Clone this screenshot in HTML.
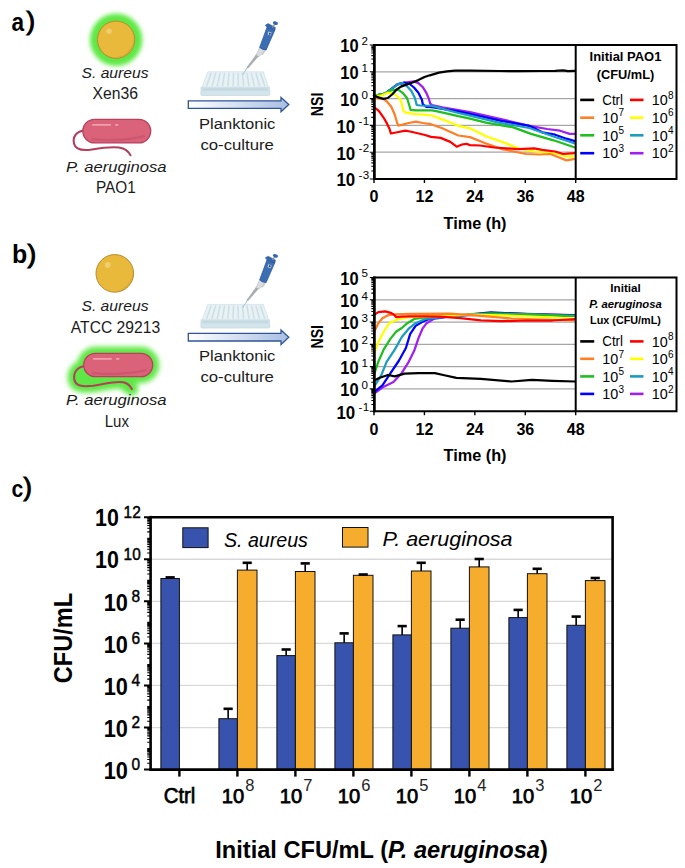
<!DOCTYPE html><html><head><meta charset="utf-8"><style>html,body{margin:0;padding:0;background:#fff;}svg{display:block;}text{font-family:"Liberation Sans", sans-serif;}</style></head><body>
<svg width="685" height="868" viewBox="0 0 685 868">
<defs><filter id="glow" x="-50%" y="-50%" width="200%" height="200%"><feGaussianBlur stdDeviation="2.1"/></filter><filter id="glow2" x="-30%" y="-60%" width="160%" height="220%"><feGaussianBlur stdDeviation="2.4"/></filter><linearGradient id="arrowg" x1="0" y1="0" x2="1" y2="0"><stop offset="0" stop-color="#FFFFFF"/><stop offset="1" stop-color="#A9BEE3"/></linearGradient></defs>
<rect width="685" height="868" fill="#fff"/>
<text transform="translate(11.4,30.6) scale(0.86,1)" font-size="26.3" font-weight="bold">a</text>
<text x="26.4" y="29.6" font-size="25.4" stroke="#000" stroke-width="1.1">)</text>
<text transform="translate(11.9,263.0) scale(0.96,1)" font-size="26.0" font-weight="bold">b</text>
<text x="27.6" y="262.6" font-size="25.8" stroke="#000" stroke-width="1.1">)</text>
<text transform="translate(11.6,496.5) scale(0.86,1)" font-size="24.7" font-weight="bold">c</text>
<text x="23.4" y="496.2" font-size="24.9" stroke="#000" stroke-width="1.1">)</text>
<circle cx="116.1" cy="39.7" r="26.200000000000003" fill="#5EE845" filter="url(#glow)"/>
<circle cx="116.1" cy="39.7" r="18.6" fill="#E9B93C" stroke="#B98B32" stroke-width="1.0"/>
<path d="M133.40,35.05 A17.86,17.86 0 0 1 114.24,57.37 A19.53,19.53 0 0 0 133.40,35.05 Z" fill="#D9A331" opacity="0.8"/>
<circle cx="109.03" cy="31.33" r="2.79" fill="#F0CD6E"/>
<text x="115" y="77.75" font-size="14.8" font-weight="normal" font-style="italic" text-anchor="middle" fill="#1a1a1a" textLength="67" lengthAdjust="spacingAndGlyphs" >S. aureus</text>
<text x="115.3" y="99.1" font-size="16.1" font-weight="normal" font-style="normal" text-anchor="middle" fill="#1a1a1a" textLength="45.5" lengthAdjust="spacingAndGlyphs" >Xen36</text>
<path d="M83.5,130.5 C76,132 72.5,137 74,143.5 C75.5,150 82,151 92,149.5 C104,147.5 116,146 123,148.5 C127,150 129,152.5 130.5,155.2" fill="none" stroke="#B23F5C" stroke-width="2.1" stroke-linecap="round"/>
<rect x="82.8" y="119.3" width="67.89999999999999" height="23.60000000000001" rx="11.800000000000004" fill="#DA6379" stroke="#B8405E" stroke-width="1.3"/>
<path d="M91.06,139.124 Q116.75,142.192 144.79999999999998,136.292" fill="none" stroke="#C64D67" stroke-width="2.4" opacity="0.55"/>
<line x1="92.8" y1="124.89999999999999" x2="110.3" y2="124.89999999999999" stroke="#EDA0AE" stroke-width="1.6" stroke-linecap="round"/>
<line x1="115.8" y1="124.89999999999999" x2="117.8" y2="124.89999999999999" stroke="#EDA0AE" stroke-width="1.6" stroke-linecap="round"/>
<text x="116.3" y="171.9" font-size="15" font-weight="normal" font-style="italic" text-anchor="middle" fill="#1a1a1a" textLength="100.4" lengthAdjust="spacingAndGlyphs" >P. aeruginosa</text>
<text x="115.8" y="193.3" font-size="15.9" font-weight="normal" font-style="normal" text-anchor="middle" fill="#1a1a1a" textLength="39.8" lengthAdjust="spacingAndGlyphs" >PAO1</text>
<g transform="translate(0,0)">
<path d="M201,87.2 L269.5,87.2 L269.8,94.5 Q269.8,95.5 268.5,95.5 L202,95.5 Q200.8,95.5 200.8,94.5 Z" fill="#D3E4EA" stroke="#BFD3DB" stroke-width="0.6"/>
<rect x="202.5" y="88.2" width="65.5" height="2.6" fill="#C4D9E1"/>
<path d="M207.8,71.8 L263.3,71.8 L268.6,87.2 L202.2,87.2 Z" fill="#E8F2F5" stroke="#C6DAE2" stroke-width="0.6"/>
<line x1="211.2" y1="72.8" x2="206.6" y2="86.2" stroke="#CCDFE6" stroke-width="1.5"/>
<line x1="215.7" y1="72.8" x2="211.9" y2="86.2" stroke="#CCDFE6" stroke-width="1.5"/>
<line x1="220.1" y1="72.8" x2="217.2" y2="86.2" stroke="#CCDFE6" stroke-width="1.5"/>
<line x1="224.6" y1="72.8" x2="222.5" y2="86.2" stroke="#CCDFE6" stroke-width="1.5"/>
<line x1="229.1" y1="72.8" x2="227.8" y2="86.2" stroke="#CCDFE6" stroke-width="1.5"/>
<line x1="233.5" y1="72.8" x2="233.1" y2="86.2" stroke="#CCDFE6" stroke-width="1.5"/>
<line x1="238.0" y1="72.8" x2="238.4" y2="86.2" stroke="#CCDFE6" stroke-width="1.5"/>
<line x1="242.4" y1="72.8" x2="243.7" y2="86.2" stroke="#CCDFE6" stroke-width="1.5"/>
<line x1="246.9" y1="72.8" x2="249.0" y2="86.2" stroke="#CCDFE6" stroke-width="1.5"/>
<line x1="251.4" y1="72.8" x2="254.3" y2="86.2" stroke="#CCDFE6" stroke-width="1.5"/>
<line x1="255.8" y1="72.8" x2="259.6" y2="86.2" stroke="#CCDFE6" stroke-width="1.5"/>
<line x1="260.3" y1="72.8" x2="264.9" y2="86.2" stroke="#CCDFE6" stroke-width="1.5"/>
</g>
<g transform="translate(0,0)">
<line x1="243" y1="74.6" x2="247.8" y2="66.8" stroke="#A9C3CC" stroke-width="1.0" stroke-linecap="round"/>
<path d="M246.9,67.4 L256.2,54.6 L258.4,56.2 L248.2,67.9 Z" fill="#A8ADB3" stroke="#8E959C" stroke-width="0.4"/>
<path d="M256.0,55.2 L259.6,47.6 L265.8,50.0 L258.9,56.6 Z" fill="#DADDE0" stroke="#A3A9AF" stroke-width="0.5"/>
<path d="M263.5,50.5 L266.0,50.2 L262.8,55.2 L261.6,54.4 Z" fill="#C9CDD1"/>
<path d="M259.6,47.4 L267.0,27.2 L274.8,30.2 L266.2,49.9 Q263.0,50.2 259.6,47.4 Z" fill="#3C6EB4" stroke="#2A5593" stroke-width="0.7"/>
<path d="M265.2,25.2 L268.2,23.6 L275.4,27.4 L274.9,30.4 L267.2,27.4 Z" fill="#3567AE" stroke="#2A5593" stroke-width="0.5"/>
<path d="M268.6,31.6 L271.6,32.8 L270.6,35.6 L267.6,34.4 Z" fill="#E8EEF4"/>
<path d="M269.2,32.4 L271.0,33.1 L270.3,34.9 L268.5,34.2 Z" fill="#23406B"/>
<line x1="272.6" y1="27.6" x2="274.6" y2="24.2" stroke="#8A96A3" stroke-width="1.3"/>
<ellipse cx="275.4" cy="23.2" rx="2.6" ry="1.7" fill="#3567AE" transform="rotate(20 275.4 23.2)"/>
</g>
<g transform="translate(0,0)">
<path d="M188.3,100.8 L281,100.8 L281,97.4 L288.8,104.6 L281,111.8 L281,108.4 L188.3,108.4 Z" fill="url(#arrowg)" stroke="#2F5597" stroke-width="1.3" stroke-linejoin="miter"/>
</g>
<text x="237.2" y="128.7" font-size="15.5" font-weight="normal" font-style="normal" text-anchor="middle" fill="#1a1a1a" textLength="76.4" lengthAdjust="spacingAndGlyphs" >Planktonic</text>
<text x="237.2" y="149.7" font-size="15.5" font-weight="normal" font-style="normal" text-anchor="middle" fill="#1a1a1a" textLength="73.5" lengthAdjust="spacingAndGlyphs" >co-culture</text>
<g filter="url(#glow2)"><rect x="77.2" y="346.8" width="81.99999999999999" height="36.39999999999998" rx="18.19999999999999" fill="#5EE845"/><path d="M84.5,366 C77,367.5 73.3,372.5 74.3,379.5 C75.5,386 82,387 93,385.8 C105,384.2 115,380.5 123.5,382.3 C128,383.5 130.5,386.5 131.8,389 L113.7,376.7 Z" fill="#5EE845" stroke="#5EE845" stroke-width="13" stroke-linejoin="round" stroke-linecap="round"/></g>
<path d="M84.5,366 C77,367.5 73.3,372.5 74.3,379.5 C75.5,386 82,387 93,385.8 C105,384.2 115,380.5 123.5,382.3 C128,383.5 130.5,386.5 131.8,389" fill="none" stroke="#B23F5C" stroke-width="2.1" stroke-linecap="round"/>
<rect x="83.7" y="353.3" width="68.99999999999999" height="23.399999999999977" rx="11.699999999999989" fill="#DA6379" stroke="#B8405E" stroke-width="1.3"/>
<path d="M91.89,372.956 Q118.19999999999999,375.998 146.85,370.148" fill="none" stroke="#C64D67" stroke-width="2.4" opacity="0.55"/>
<line x1="93.7" y1="358.90000000000003" x2="111.2" y2="358.90000000000003" stroke="#EDA0AE" stroke-width="1.6" stroke-linecap="round"/>
<line x1="116.7" y1="358.90000000000003" x2="118.7" y2="358.90000000000003" stroke="#EDA0AE" stroke-width="1.6" stroke-linecap="round"/>
<circle cx="114.8" cy="273.4" r="18.8" fill="#E9B93C" stroke="#B98B32" stroke-width="1.0"/>
<path d="M132.28,268.70 A18.05,18.05 0 0 1 112.92,291.26 A19.74,19.74 0 0 0 132.28,268.70 Z" fill="#D9A331" opacity="0.8"/>
<circle cx="107.66" cy="264.94" r="2.82" fill="#F0CD6E"/>
<text x="115" y="311" font-size="14.8" font-weight="normal" font-style="italic" text-anchor="middle" fill="#1a1a1a" textLength="67.1" lengthAdjust="spacingAndGlyphs" >S. aureus</text>
<text x="115.5" y="332.6" font-size="15.6" font-weight="normal" font-style="normal" text-anchor="middle" fill="#1a1a1a" textLength="89.3" lengthAdjust="spacingAndGlyphs" >ATCC 29213</text>
<text x="116.3" y="405.2" font-size="15" font-weight="normal" font-style="italic" text-anchor="middle" fill="#1a1a1a" textLength="100.4" lengthAdjust="spacingAndGlyphs" >P. aeruginosa</text>
<text x="116.8" y="426.7" font-size="16.4" font-weight="normal" font-style="normal" text-anchor="middle" fill="#1a1a1a" textLength="24.2" lengthAdjust="spacingAndGlyphs" >Lux</text>
<g transform="translate(0,232.6)">
<path d="M201,87.2 L269.5,87.2 L269.8,94.5 Q269.8,95.5 268.5,95.5 L202,95.5 Q200.8,95.5 200.8,94.5 Z" fill="#D3E4EA" stroke="#BFD3DB" stroke-width="0.6"/>
<rect x="202.5" y="88.2" width="65.5" height="2.6" fill="#C4D9E1"/>
<path d="M207.8,71.8 L263.3,71.8 L268.6,87.2 L202.2,87.2 Z" fill="#E8F2F5" stroke="#C6DAE2" stroke-width="0.6"/>
<line x1="211.2" y1="72.8" x2="206.6" y2="86.2" stroke="#CCDFE6" stroke-width="1.5"/>
<line x1="215.7" y1="72.8" x2="211.9" y2="86.2" stroke="#CCDFE6" stroke-width="1.5"/>
<line x1="220.1" y1="72.8" x2="217.2" y2="86.2" stroke="#CCDFE6" stroke-width="1.5"/>
<line x1="224.6" y1="72.8" x2="222.5" y2="86.2" stroke="#CCDFE6" stroke-width="1.5"/>
<line x1="229.1" y1="72.8" x2="227.8" y2="86.2" stroke="#CCDFE6" stroke-width="1.5"/>
<line x1="233.5" y1="72.8" x2="233.1" y2="86.2" stroke="#CCDFE6" stroke-width="1.5"/>
<line x1="238.0" y1="72.8" x2="238.4" y2="86.2" stroke="#CCDFE6" stroke-width="1.5"/>
<line x1="242.4" y1="72.8" x2="243.7" y2="86.2" stroke="#CCDFE6" stroke-width="1.5"/>
<line x1="246.9" y1="72.8" x2="249.0" y2="86.2" stroke="#CCDFE6" stroke-width="1.5"/>
<line x1="251.4" y1="72.8" x2="254.3" y2="86.2" stroke="#CCDFE6" stroke-width="1.5"/>
<line x1="255.8" y1="72.8" x2="259.6" y2="86.2" stroke="#CCDFE6" stroke-width="1.5"/>
<line x1="260.3" y1="72.8" x2="264.9" y2="86.2" stroke="#CCDFE6" stroke-width="1.5"/>
</g>
<g transform="translate(0,232.6)">
<line x1="243" y1="74.6" x2="247.8" y2="66.8" stroke="#A9C3CC" stroke-width="1.0" stroke-linecap="round"/>
<path d="M246.9,67.4 L256.2,54.6 L258.4,56.2 L248.2,67.9 Z" fill="#A8ADB3" stroke="#8E959C" stroke-width="0.4"/>
<path d="M256.0,55.2 L259.6,47.6 L265.8,50.0 L258.9,56.6 Z" fill="#DADDE0" stroke="#A3A9AF" stroke-width="0.5"/>
<path d="M263.5,50.5 L266.0,50.2 L262.8,55.2 L261.6,54.4 Z" fill="#C9CDD1"/>
<path d="M259.6,47.4 L267.0,27.2 L274.8,30.2 L266.2,49.9 Q263.0,50.2 259.6,47.4 Z" fill="#3C6EB4" stroke="#2A5593" stroke-width="0.7"/>
<path d="M265.2,25.2 L268.2,23.6 L275.4,27.4 L274.9,30.4 L267.2,27.4 Z" fill="#3567AE" stroke="#2A5593" stroke-width="0.5"/>
<path d="M268.6,31.6 L271.6,32.8 L270.6,35.6 L267.6,34.4 Z" fill="#E8EEF4"/>
<path d="M269.2,32.4 L271.0,33.1 L270.3,34.9 L268.5,34.2 Z" fill="#23406B"/>
<line x1="272.6" y1="27.6" x2="274.6" y2="24.2" stroke="#8A96A3" stroke-width="1.3"/>
<ellipse cx="275.4" cy="23.2" rx="2.6" ry="1.7" fill="#3567AE" transform="rotate(20 275.4 23.2)"/>
</g>
<g transform="translate(0,232.6)">
<path d="M188.3,100.8 L281,100.8 L281,97.4 L288.8,104.6 L281,111.8 L281,108.4 L188.3,108.4 Z" fill="url(#arrowg)" stroke="#2F5597" stroke-width="1.3" stroke-linejoin="miter"/>
</g>
<text x="237.2" y="361.3" font-size="15.5" font-weight="normal" font-style="normal" text-anchor="middle" fill="#1a1a1a" textLength="76.4" lengthAdjust="spacingAndGlyphs" >Planktonic</text>
<text x="237.2" y="382.3" font-size="15.5" font-weight="normal" font-style="normal" text-anchor="middle" fill="#1a1a1a" textLength="73.5" lengthAdjust="spacingAndGlyphs" >co-culture</text>
<line x1="374.0" y1="71.80" x2="575.7" y2="71.80" stroke="#A6A6A6" stroke-width="1.3"/>
<line x1="374.0" y1="98.60" x2="575.7" y2="98.60" stroke="#A6A6A6" stroke-width="1.3"/>
<line x1="374.0" y1="125.40" x2="575.7" y2="125.40" stroke="#A6A6A6" stroke-width="1.3"/>
<line x1="374.0" y1="152.20" x2="575.7" y2="152.20" stroke="#A6A6A6" stroke-width="1.3"/>
<polyline points="374.0,95.8 385.1,93.6 392.1,88.4 397.4,84.4 404.4,82.7 407.0,82.3 414.0,81.4 418.4,83.1 422.8,87.1 426.3,92.8 428.9,98.9 430.2,103.7 432.0,105.0 442.3,107.4 470.0,112.2 502.1,119.4 529.4,125.8 547.1,129.0 560.0,130.7 569.6,133.9 575.0,133.9" fill="none" stroke="#A020F0" stroke-width="2.25" stroke-linejoin="round" stroke-linecap="round"/>
<polyline points="374.0,95.8 385.1,93.6 392.1,88.4 397.4,84.4 404.4,82.7 409.7,84.0 414.0,87.5 418.4,92.8 421.9,99.8 422.8,104.2 426.3,106.8 432.0,107.2 458.3,111.4 470.0,113.8 500.0,120.6 529.4,125.8 542.3,132.3 555.1,134.7 566.4,138.7 575.0,141.1" fill="none" stroke="#0000FF" stroke-width="2.25" stroke-linejoin="round" stroke-linecap="round"/>
<polyline points="374.0,95.8 385.1,93.6 392.1,88.4 397.4,84.4 402.6,83.1 407.0,86.2 411.4,91.0 414.9,98.0 416.7,105.0 420.2,105.5 432.0,105.9 458.3,113.0 470.0,115.6 500.0,122.8 529.4,128.0 555.0,137.0 575.0,143.5" fill="none" stroke="#1A9DC0" stroke-width="2.25" stroke-linejoin="round" stroke-linecap="round"/>
<polyline points="374.0,95.8 385.1,93.6 392.1,90.1 398.3,89.7 402.6,92.8 407.0,98.0 409.2,105.0 410.5,109.8 415.8,110.3 432.0,110.3 437.4,111.4 458.3,116.2 470.0,118.6 486.0,122.6 513.4,127.4 531.0,133.9 553.5,140.3 575.0,147.5" fill="none" stroke="#1FBF1F" stroke-width="2.25" stroke-linejoin="round" stroke-linecap="round"/>
<polyline points="374.0,95.8 380.8,95.8 387.8,92.8 391.3,92.8 395.6,95.0 400.0,98.9 402.2,105.0 403.5,111.2 407.0,112.9 415.8,114.2 424.5,114.7 432.0,115.5 442.3,119.4 458.3,125.8 470.0,128.3 486.0,136.3 502.0,141.9 518.2,148.3 534.2,151.5 555.0,153.1 566.4,156.4 575.0,156.4" fill="none" stroke="#FFFF00" stroke-width="2.25" stroke-linejoin="round" stroke-linecap="round"/>
<polyline points="374.0,98.0 383.4,98.9 386.9,101.5 391.3,106.8 394.8,114.7 397.0,122.5 398.3,125.6 402.6,124.7 408.8,123.0 415.8,121.7 422.8,123.0 431.0,124.2 442.3,128.3 458.3,135.5 470.0,137.1 486.0,143.5 502.1,149.1 526.2,154.0 540.0,154.5 550.3,154.0 558.0,157.0 566.4,160.4 575.0,158.8" fill="none" stroke="#FF7F27" stroke-width="2.25" stroke-linejoin="round" stroke-linecap="round"/>
<polyline points="374.0,107.0 379.0,111.2 383.4,117.3 386.9,123.4 389.5,128.7 390.9,133.5 396.0,132.5 405.3,130.7 410.0,131.5 416.6,133.0 425.0,135.0 431.0,136.8 440.7,137.9 450.3,141.9 456.7,146.7 462.0,144.5 466.4,143.8 470.0,145.1 480.0,145.5 494.0,147.5 518.2,149.1 534.2,148.3 542.3,149.9 555.1,151.5 563.1,154.0 575.0,153.1" fill="none" stroke="#FF0000" stroke-width="2.25" stroke-linejoin="round" stroke-linecap="round"/>
<polyline points="374.0,95.5 379.0,97.6 383.4,98.9 387.8,98.0 392.1,94.5 396.5,89.7 400.9,86.6 407.0,84.4 413.2,82.3 418.4,80.1 424.5,77.0 429.8,75.3 439.0,72.6 447.0,71.3 455.0,70.7 470.0,70.7 500.0,71.0 518.2,71.2 540.0,71.0 555.0,70.8 563.1,70.4 568.0,71.2 575.0,70.8" fill="none" stroke="#000000" stroke-width="2.25" stroke-linejoin="round" stroke-linecap="round"/>
<path d="M374.0,45 H676.5 V179 H374.0 Z" fill="none" stroke="#000" stroke-width="2"/>
<line x1="575.7" y1="45" x2="575.7" y2="179" stroke="#000" stroke-width="2"/>
<line x1="374.4" y1="44" x2="374.4" y2="180" stroke="#000" stroke-width="2.7"/>
<path d="M369.8,45.00H373.2 M369.8,71.80H373.2 M369.8,98.60H373.2 M369.8,125.40H373.2 M369.8,152.20H373.2 M369.8,179.00H373.2 M371.3,63.73H373.2 M371.3,59.01H373.2 M371.3,55.66H373.2 M371.3,53.07H373.2 M371.3,50.95H373.2 M371.3,49.15H373.2 M371.3,47.60H373.2 M371.3,46.23H373.2 M371.3,90.53H373.2 M371.3,85.81H373.2 M371.3,82.46H373.2 M371.3,79.87H373.2 M371.3,77.75H373.2 M371.3,75.95H373.2 M371.3,74.40H373.2 M371.3,73.03H373.2 M371.3,117.33H373.2 M371.3,112.61H373.2 M371.3,109.26H373.2 M371.3,106.67H373.2 M371.3,104.55H373.2 M371.3,102.75H373.2 M371.3,101.20H373.2 M371.3,99.83H373.2 M371.3,144.13H373.2 M371.3,139.41H373.2 M371.3,136.06H373.2 M371.3,133.47H373.2 M371.3,131.35H373.2 M371.3,129.55H373.2 M371.3,128.00H373.2 M371.3,126.63H373.2 M371.3,170.93H373.2 M371.3,166.21H373.2 M371.3,162.86H373.2 M371.3,160.27H373.2 M371.3,158.15H373.2 M371.3,156.35H373.2 M371.3,154.80H373.2 M371.3,153.43H373.2" stroke="#000" stroke-width="1.1" fill="none"/>
<line x1="374.00" y1="179" x2="374.00" y2="183" stroke="#000" stroke-width="1.4"/>
<text x="374.00" y="202.3" font-size="16" font-weight="bold" font-style="normal" text-anchor="middle" fill="#000" >0</text>
<line x1="424.43" y1="179" x2="424.43" y2="183" stroke="#000" stroke-width="1.4"/>
<text x="424.43" y="202.3" font-size="16" font-weight="bold" font-style="normal" text-anchor="middle" fill="#000" >12</text>
<line x1="474.85" y1="179" x2="474.85" y2="183" stroke="#000" stroke-width="1.4"/>
<text x="474.85" y="202.3" font-size="16" font-weight="bold" font-style="normal" text-anchor="middle" fill="#000" >24</text>
<line x1="525.28" y1="179" x2="525.28" y2="183" stroke="#000" stroke-width="1.4"/>
<text x="525.28" y="202.3" font-size="16" font-weight="bold" font-style="normal" text-anchor="middle" fill="#000" >36</text>
<line x1="575.70" y1="179" x2="575.70" y2="183" stroke="#000" stroke-width="1.4"/>
<text x="575.70" y="202.3" font-size="16" font-weight="bold" font-style="normal" text-anchor="middle" fill="#000" >48</text>
<text x="358.6" y="52.40" font-size="17.9" font-weight="bold" font-style="normal" text-anchor="end" fill="#000" textLength="18.3" lengthAdjust="spacingAndGlyphs" >10</text>
<text x="361.6" y="44.90" font-size="11.6" font-weight="normal" font-style="normal" text-anchor="start" fill="#000" >2</text>
<text x="358.6" y="79.20" font-size="17.9" font-weight="bold" font-style="normal" text-anchor="end" fill="#000" textLength="18.3" lengthAdjust="spacingAndGlyphs" >10</text>
<text x="361.6" y="71.70" font-size="11.6" font-weight="normal" font-style="normal" text-anchor="start" fill="#000" >1</text>
<text x="358.6" y="106.00" font-size="17.9" font-weight="bold" font-style="normal" text-anchor="end" fill="#000" textLength="18.3" lengthAdjust="spacingAndGlyphs" >10</text>
<text x="361.6" y="98.50" font-size="11.6" font-weight="normal" font-style="normal" text-anchor="start" fill="#000" >0</text>
<text x="355.2" y="132.80" font-size="17.9" font-weight="bold" font-style="normal" text-anchor="end" fill="#000" textLength="18.8" lengthAdjust="spacingAndGlyphs" >10</text>
<text x="358.4" y="125.30" font-size="11.6" font-weight="normal" font-style="normal" text-anchor="start" fill="#000" letter-spacing="0.5">-1</text>
<text x="355.2" y="159.60" font-size="17.9" font-weight="bold" font-style="normal" text-anchor="end" fill="#000" textLength="18.8" lengthAdjust="spacingAndGlyphs" >10</text>
<text x="358.4" y="152.10" font-size="11.6" font-weight="normal" font-style="normal" text-anchor="start" fill="#000" letter-spacing="0.5">-2</text>
<text x="355.2" y="186.40" font-size="17.9" font-weight="bold" font-style="normal" text-anchor="end" fill="#000" textLength="18.8" lengthAdjust="spacingAndGlyphs" >10</text>
<text x="358.4" y="178.90" font-size="11.6" font-weight="normal" font-style="normal" text-anchor="start" fill="#000" letter-spacing="0.5">-3</text>
<text x="475" y="228.5" font-size="16.5" font-weight="bold" font-style="normal" text-anchor="middle" fill="#000" textLength="63" lengthAdjust="spacingAndGlyphs" >Time (h)</text>
<text transform="translate(322.8,104.40) rotate(-90)" font-size="17" font-weight="bold" text-anchor="middle" textLength="23.5" lengthAdjust="spacingAndGlyphs">NSI</text>
<text x="625.5" y="61.1" font-size="13.2" font-weight="bold" font-style="normal" text-anchor="middle" fill="#000" textLength="71.8" lengthAdjust="spacingAndGlyphs" >Initial PAO1</text>
<text x="625.5" y="78.6" font-size="13.2" font-weight="bold" font-style="normal" text-anchor="middle" fill="#000" textLength="57.5" lengthAdjust="spacingAndGlyphs" >(CFU/mL)</text>
<line x1="580.2" y1="99.9" x2="594.2" y2="99.9" stroke="#000000" stroke-width="2.6"/>
<text x="602.3" y="104.80000000000001" font-size="14" font-weight="normal" font-style="normal" text-anchor="start" fill="#000" textLength="20.7" lengthAdjust="spacingAndGlyphs" >Ctrl</text>
<line x1="630" y1="99.9" x2="643.5" y2="99.9" stroke="#FF0000" stroke-width="2.6"/>
<text x="651.8" y="105.10000000000001" font-size="14.3" font-weight="normal" font-style="normal" text-anchor="start" fill="#000" textLength="16" lengthAdjust="spacingAndGlyphs" >10</text>
<text x="668.0999999999999" y="98.60000000000001" font-size="10" font-weight="normal" font-style="normal" text-anchor="start" fill="#000" >8</text>
<line x1="580.2" y1="117.7" x2="594.2" y2="117.7" stroke="#FF7F27" stroke-width="2.6"/>
<text x="602.3" y="122.9" font-size="14.3" font-weight="normal" font-style="normal" text-anchor="start" fill="#000" textLength="16" lengthAdjust="spacingAndGlyphs" >10</text>
<text x="618.5999999999999" y="116.4" font-size="10" font-weight="normal" font-style="normal" text-anchor="start" fill="#000" >7</text>
<line x1="630" y1="117.7" x2="643.5" y2="117.7" stroke="#FFFF00" stroke-width="2.6"/>
<text x="651.8" y="122.9" font-size="14.3" font-weight="normal" font-style="normal" text-anchor="start" fill="#000" textLength="16" lengthAdjust="spacingAndGlyphs" >10</text>
<text x="668.0999999999999" y="116.4" font-size="10" font-weight="normal" font-style="normal" text-anchor="start" fill="#000" >6</text>
<line x1="580.2" y1="135.3" x2="594.2" y2="135.3" stroke="#1FBF1F" stroke-width="2.6"/>
<text x="602.3" y="140.5" font-size="14.3" font-weight="normal" font-style="normal" text-anchor="start" fill="#000" textLength="16" lengthAdjust="spacingAndGlyphs" >10</text>
<text x="618.5999999999999" y="134.0" font-size="10" font-weight="normal" font-style="normal" text-anchor="start" fill="#000" >5</text>
<line x1="630" y1="135.3" x2="643.5" y2="135.3" stroke="#1A9DC0" stroke-width="2.6"/>
<text x="651.8" y="140.5" font-size="14.3" font-weight="normal" font-style="normal" text-anchor="start" fill="#000" textLength="16" lengthAdjust="spacingAndGlyphs" >10</text>
<text x="668.0999999999999" y="134.0" font-size="10" font-weight="normal" font-style="normal" text-anchor="start" fill="#000" >4</text>
<line x1="580.2" y1="153.2" x2="594.2" y2="153.2" stroke="#0000FF" stroke-width="2.6"/>
<text x="602.3" y="158.39999999999998" font-size="14.3" font-weight="normal" font-style="normal" text-anchor="start" fill="#000" textLength="16" lengthAdjust="spacingAndGlyphs" >10</text>
<text x="618.5999999999999" y="151.89999999999998" font-size="10" font-weight="normal" font-style="normal" text-anchor="start" fill="#000" >3</text>
<line x1="630" y1="153.2" x2="643.5" y2="153.2" stroke="#A020F0" stroke-width="2.6"/>
<text x="651.8" y="158.39999999999998" font-size="14.3" font-weight="normal" font-style="normal" text-anchor="start" fill="#000" textLength="16" lengthAdjust="spacingAndGlyphs" >10</text>
<text x="668.0999999999999" y="151.89999999999998" font-size="10" font-weight="normal" font-style="normal" text-anchor="start" fill="#000" >2</text>
<line x1="374.0" y1="299.78" x2="575.7" y2="299.78" stroke="#A6A6A6" stroke-width="1.3"/>
<line x1="374.0" y1="322.07" x2="575.7" y2="322.07" stroke="#A6A6A6" stroke-width="1.3"/>
<line x1="374.0" y1="344.35" x2="575.7" y2="344.35" stroke="#A6A6A6" stroke-width="1.3"/>
<line x1="374.0" y1="366.63" x2="575.7" y2="366.63" stroke="#A6A6A6" stroke-width="1.3"/>
<line x1="374.0" y1="388.92" x2="575.7" y2="388.92" stroke="#A6A6A6" stroke-width="1.3"/>
<polyline points="374.1,393.6 383.8,386.7 393.5,381.9 401.8,372.9 408.7,361.8 414.2,350.8 418.4,338.4 422.5,328.7 426.6,323.2 433.6,319.0 450.0,316.3 491.0,313.0 575.0,315.0" fill="none" stroke="#A020F0" stroke-width="2.25" stroke-linejoin="round" stroke-linecap="round"/>
<polyline points="374.1,392.2 382.4,385.3 390.7,372.9 399.0,360.5 405.9,348.0 410.1,334.2 415.6,325.9 422.5,321.8 430.8,318.3 450.0,316.3 491.0,312.4 532.0,314.4 575.0,315.4" fill="none" stroke="#0000FF" stroke-width="2.25" stroke-linejoin="round" stroke-linecap="round"/>
<polyline points="374.1,386.7 381.1,375.7 386.6,361.8 394.9,349.4 401.8,337.0 408.7,328.7 415.6,323.2 425.3,319.0 450.0,316.3 491.0,314.0 575.0,315.8" fill="none" stroke="#1A9DC0" stroke-width="2.25" stroke-linejoin="round" stroke-linecap="round"/>
<polyline points="374.1,374.3 378.3,361.8 383.8,349.4 390.7,338.4 396.3,331.5 401.8,328.0 407.3,323.2 414.2,319.0 428.0,316.9 450.0,315.6 491.0,313.4 532.0,314.4 575.0,316.0" fill="none" stroke="#1FBF1F" stroke-width="2.25" stroke-linejoin="round" stroke-linecap="round"/>
<polyline points="374.1,353.6 378.3,342.5 383.8,331.5 389.3,323.2 394.9,320.4 401.8,318.3 411.4,316.9 450.0,315.6 470.0,314.5 501.3,315.4 532.0,316.5 575.0,318.5" fill="none" stroke="#FFFF00" stroke-width="2.25" stroke-linejoin="round" stroke-linecap="round"/>
<polyline points="374.1,332.1 378.3,323.2 382.4,318.3 388.0,315.2 394.9,314.4 411.4,313.9 450.0,313.6 480.9,315.8 511.5,318.5 542.2,319.5 575.0,320.5" fill="none" stroke="#FF7F27" stroke-width="2.25" stroke-linejoin="round" stroke-linecap="round"/>
<polyline points="374.1,314.9 378.3,312.1 385.2,311.4 390.7,312.8 394.2,314.9 396.3,317.1 401.8,316.6 408.7,316.3 425.3,316.4 440.0,316.6 460.4,318.2 480.9,320.3 501.3,321.2 525.8,320.5 552.4,320.5 575.0,319.1" fill="none" stroke="#FF0000" stroke-width="2.25" stroke-linejoin="round" stroke-linecap="round"/>
<polyline points="374.1,380.5 379.7,377.7 388.0,375.0 394.9,376.4 404.5,373.6 418.4,373.2 434.9,373.2 443.2,375.0 456.4,377.8 480.9,378.8 511.5,381.5 532.0,379.8 552.4,380.8 575.0,381.5" fill="none" stroke="#000000" stroke-width="2.25" stroke-linejoin="round" stroke-linecap="round"/>
<path d="M374.0,277.5 H676.5 V411.2 H374.0 Z" fill="none" stroke="#000" stroke-width="2"/>
<line x1="575.7" y1="277.5" x2="575.7" y2="411.2" stroke="#000" stroke-width="2"/>
<line x1="374.4" y1="276.5" x2="374.4" y2="412.2" stroke="#000" stroke-width="2.7"/>
<path d="M369.8,277.50H373.2 M369.8,299.78H373.2 M369.8,322.07H373.2 M369.8,344.35H373.2 M369.8,366.63H373.2 M369.8,388.92H373.2 M369.8,411.20H373.2 M371.3,293.08H373.2 M371.3,289.15H373.2 M371.3,286.37H373.2 M371.3,284.21H373.2 M371.3,282.44H373.2 M371.3,280.95H373.2 M371.3,279.66H373.2 M371.3,278.52H373.2 M371.3,315.36H373.2 M371.3,311.43H373.2 M371.3,308.65H373.2 M371.3,306.49H373.2 M371.3,304.73H373.2 M371.3,303.24H373.2 M371.3,301.94H373.2 M371.3,300.80H373.2 M371.3,337.64H373.2 M371.3,333.72H373.2 M371.3,330.93H373.2 M371.3,328.77H373.2 M371.3,327.01H373.2 M371.3,325.52H373.2 M371.3,324.23H373.2 M371.3,323.09H373.2 M371.3,359.93H373.2 M371.3,356.00H373.2 M371.3,353.22H373.2 M371.3,351.06H373.2 M371.3,349.29H373.2 M371.3,347.80H373.2 M371.3,346.51H373.2 M371.3,345.37H373.2 M371.3,382.21H373.2 M371.3,378.28H373.2 M371.3,375.50H373.2 M371.3,373.34H373.2 M371.3,371.58H373.2 M371.3,370.09H373.2 M371.3,368.79H373.2 M371.3,367.65H373.2 M371.3,404.49H373.2 M371.3,400.57H373.2 M371.3,397.78H373.2 M371.3,395.62H373.2 M371.3,393.86H373.2 M371.3,392.37H373.2 M371.3,391.08H373.2 M371.3,389.94H373.2" stroke="#000" stroke-width="1.1" fill="none"/>
<line x1="374.00" y1="411.2" x2="374.00" y2="415.2" stroke="#000" stroke-width="1.4"/>
<text x="374.00" y="434.5" font-size="16" font-weight="bold" font-style="normal" text-anchor="middle" fill="#000" >0</text>
<line x1="424.43" y1="411.2" x2="424.43" y2="415.2" stroke="#000" stroke-width="1.4"/>
<text x="424.43" y="434.5" font-size="16" font-weight="bold" font-style="normal" text-anchor="middle" fill="#000" >12</text>
<line x1="474.85" y1="411.2" x2="474.85" y2="415.2" stroke="#000" stroke-width="1.4"/>
<text x="474.85" y="434.5" font-size="16" font-weight="bold" font-style="normal" text-anchor="middle" fill="#000" >24</text>
<line x1="525.28" y1="411.2" x2="525.28" y2="415.2" stroke="#000" stroke-width="1.4"/>
<text x="525.28" y="434.5" font-size="16" font-weight="bold" font-style="normal" text-anchor="middle" fill="#000" >36</text>
<line x1="575.70" y1="411.2" x2="575.70" y2="415.2" stroke="#000" stroke-width="1.4"/>
<text x="575.70" y="434.5" font-size="16" font-weight="bold" font-style="normal" text-anchor="middle" fill="#000" >48</text>
<text x="358.6" y="284.90" font-size="17.9" font-weight="bold" font-style="normal" text-anchor="end" fill="#000" textLength="18.3" lengthAdjust="spacingAndGlyphs" >10</text>
<text x="361.6" y="277.40" font-size="11.6" font-weight="normal" font-style="normal" text-anchor="start" fill="#000" >5</text>
<text x="358.6" y="307.18" font-size="17.9" font-weight="bold" font-style="normal" text-anchor="end" fill="#000" textLength="18.3" lengthAdjust="spacingAndGlyphs" >10</text>
<text x="361.6" y="299.68" font-size="11.6" font-weight="normal" font-style="normal" text-anchor="start" fill="#000" >4</text>
<text x="358.6" y="329.47" font-size="17.9" font-weight="bold" font-style="normal" text-anchor="end" fill="#000" textLength="18.3" lengthAdjust="spacingAndGlyphs" >10</text>
<text x="361.6" y="321.97" font-size="11.6" font-weight="normal" font-style="normal" text-anchor="start" fill="#000" >3</text>
<text x="358.6" y="351.75" font-size="17.9" font-weight="bold" font-style="normal" text-anchor="end" fill="#000" textLength="18.3" lengthAdjust="spacingAndGlyphs" >10</text>
<text x="361.6" y="344.25" font-size="11.6" font-weight="normal" font-style="normal" text-anchor="start" fill="#000" >2</text>
<text x="358.6" y="374.03" font-size="17.9" font-weight="bold" font-style="normal" text-anchor="end" fill="#000" textLength="18.3" lengthAdjust="spacingAndGlyphs" >10</text>
<text x="361.6" y="366.53" font-size="11.6" font-weight="normal" font-style="normal" text-anchor="start" fill="#000" >1</text>
<text x="358.6" y="396.32" font-size="17.9" font-weight="bold" font-style="normal" text-anchor="end" fill="#000" textLength="18.3" lengthAdjust="spacingAndGlyphs" >10</text>
<text x="361.6" y="388.82" font-size="11.6" font-weight="normal" font-style="normal" text-anchor="start" fill="#000" >0</text>
<text x="355.2" y="418.60" font-size="17.9" font-weight="bold" font-style="normal" text-anchor="end" fill="#000" textLength="18.8" lengthAdjust="spacingAndGlyphs" >10</text>
<text x="358.4" y="411.10" font-size="11.6" font-weight="normal" font-style="normal" text-anchor="start" fill="#000" letter-spacing="0.5">-1</text>
<text x="475" y="460.7" font-size="16.5" font-weight="bold" font-style="normal" text-anchor="middle" fill="#000" textLength="63" lengthAdjust="spacingAndGlyphs" >Time (h)</text>
<text transform="translate(322.8,336.75) rotate(-90)" font-size="17" font-weight="bold" text-anchor="middle" textLength="23.5" lengthAdjust="spacingAndGlyphs">NSI</text>
<text x="625.5" y="292" font-size="11.5" font-weight="bold" font-style="normal" text-anchor="middle" fill="#000" textLength="30.4" lengthAdjust="spacingAndGlyphs" >Initial</text>
<text x="625.5" y="307.6" font-size="11.5" font-weight="bold" font-style="italic" text-anchor="middle" fill="#000" textLength="72.6" lengthAdjust="spacingAndGlyphs" >P. aeruginosa</text>
<text x="625.5" y="323.5" font-size="11.5" font-weight="bold" font-style="normal" text-anchor="middle" fill="#000" textLength="70.8" lengthAdjust="spacingAndGlyphs" >Lux (CFU/mL)</text>
<line x1="580.2" y1="341.4" x2="594.2" y2="341.4" stroke="#000000" stroke-width="2.6"/>
<text x="602.3" y="346.29999999999995" font-size="14" font-weight="normal" font-style="normal" text-anchor="start" fill="#000" textLength="20.7" lengthAdjust="spacingAndGlyphs" >Ctrl</text>
<line x1="630" y1="341.4" x2="643.5" y2="341.4" stroke="#FF0000" stroke-width="2.6"/>
<text x="651.8" y="346.59999999999997" font-size="14.3" font-weight="normal" font-style="normal" text-anchor="start" fill="#000" textLength="16" lengthAdjust="spacingAndGlyphs" >10</text>
<text x="668.0999999999999" y="340.09999999999997" font-size="10" font-weight="normal" font-style="normal" text-anchor="start" fill="#000" >8</text>
<line x1="580.2" y1="358.8" x2="594.2" y2="358.8" stroke="#FF7F27" stroke-width="2.6"/>
<text x="602.3" y="364.0" font-size="14.3" font-weight="normal" font-style="normal" text-anchor="start" fill="#000" textLength="16" lengthAdjust="spacingAndGlyphs" >10</text>
<text x="618.5999999999999" y="357.5" font-size="10" font-weight="normal" font-style="normal" text-anchor="start" fill="#000" >7</text>
<line x1="630" y1="358.8" x2="643.5" y2="358.8" stroke="#FFFF00" stroke-width="2.6"/>
<text x="651.8" y="364.0" font-size="14.3" font-weight="normal" font-style="normal" text-anchor="start" fill="#000" textLength="16" lengthAdjust="spacingAndGlyphs" >10</text>
<text x="668.0999999999999" y="357.5" font-size="10" font-weight="normal" font-style="normal" text-anchor="start" fill="#000" >6</text>
<line x1="580.2" y1="376.4" x2="594.2" y2="376.4" stroke="#1FBF1F" stroke-width="2.6"/>
<text x="602.3" y="381.59999999999997" font-size="14.3" font-weight="normal" font-style="normal" text-anchor="start" fill="#000" textLength="16" lengthAdjust="spacingAndGlyphs" >10</text>
<text x="618.5999999999999" y="375.09999999999997" font-size="10" font-weight="normal" font-style="normal" text-anchor="start" fill="#000" >5</text>
<line x1="630" y1="376.4" x2="643.5" y2="376.4" stroke="#1A9DC0" stroke-width="2.6"/>
<text x="651.8" y="381.59999999999997" font-size="14.3" font-weight="normal" font-style="normal" text-anchor="start" fill="#000" textLength="16" lengthAdjust="spacingAndGlyphs" >10</text>
<text x="668.0999999999999" y="375.09999999999997" font-size="10" font-weight="normal" font-style="normal" text-anchor="start" fill="#000" >4</text>
<line x1="580.2" y1="393.9" x2="594.2" y2="393.9" stroke="#0000FF" stroke-width="2.6"/>
<text x="602.3" y="399.09999999999997" font-size="14.3" font-weight="normal" font-style="normal" text-anchor="start" fill="#000" textLength="16" lengthAdjust="spacingAndGlyphs" >10</text>
<text x="618.5999999999999" y="392.59999999999997" font-size="10" font-weight="normal" font-style="normal" text-anchor="start" fill="#000" >3</text>
<line x1="630" y1="393.9" x2="643.5" y2="393.9" stroke="#A020F0" stroke-width="2.6"/>
<text x="651.8" y="399.09999999999997" font-size="14.3" font-weight="normal" font-style="normal" text-anchor="start" fill="#000" textLength="16" lengthAdjust="spacingAndGlyphs" >10</text>
<text x="668.0999999999999" y="392.59999999999997" font-size="10" font-weight="normal" font-style="normal" text-anchor="start" fill="#000" >2</text>
<line x1="150.6" y1="727.53" x2="612.6" y2="727.53" stroke="#D9D9D9" stroke-width="1.3"/>
<line x1="150.6" y1="685.47" x2="612.6" y2="685.47" stroke="#D9D9D9" stroke-width="1.3"/>
<line x1="150.6" y1="643.40" x2="612.6" y2="643.40" stroke="#D9D9D9" stroke-width="1.3"/>
<line x1="150.6" y1="601.33" x2="612.6" y2="601.33" stroke="#D9D9D9" stroke-width="1.3"/>
<line x1="150.6" y1="559.27" x2="612.6" y2="559.27" stroke="#D9D9D9" stroke-width="1.3"/>
<rect x="160.90" y="578.5" width="18.5" height="191.10" fill="#3853AE" stroke="#111" stroke-width="1"/>
<line x1="165.55" y1="577.4" x2="174.75" y2="577.4" stroke="#000" stroke-width="2.6"/>
<rect x="218.90" y="718.7" width="18.5" height="50.90" fill="#3853AE" stroke="#111" stroke-width="1"/>
<line x1="228.15" y1="718.7" x2="228.15" y2="709.8" stroke="#000" stroke-width="1.6"/>
<line x1="223.55" y1="708.8" x2="232.75" y2="708.8" stroke="#000" stroke-width="2.6"/>
<rect x="237.40" y="570.1" width="19.6" height="199.50" fill="#F6AD2E" stroke="#111" stroke-width="1"/>
<line x1="247.20" y1="570.1" x2="247.20" y2="563.8" stroke="#000" stroke-width="1.6"/>
<line x1="242.60" y1="562.8" x2="251.80" y2="562.8" stroke="#000" stroke-width="2.6"/>
<rect x="276.90" y="655.6" width="18.5" height="114.00" fill="#3853AE" stroke="#111" stroke-width="1"/>
<line x1="286.15" y1="655.6" x2="286.15" y2="650.5" stroke="#000" stroke-width="1.6"/>
<line x1="281.55" y1="649.5" x2="290.75" y2="649.5" stroke="#000" stroke-width="2.6"/>
<rect x="295.40" y="571.5" width="19.6" height="198.10" fill="#F6AD2E" stroke="#111" stroke-width="1"/>
<line x1="305.20" y1="571.5" x2="305.20" y2="564.4" stroke="#000" stroke-width="1.6"/>
<line x1="300.60" y1="563.4" x2="309.80" y2="563.4" stroke="#000" stroke-width="2.6"/>
<rect x="334.90" y="642.8" width="18.5" height="126.80" fill="#3853AE" stroke="#111" stroke-width="1"/>
<line x1="344.15" y1="642.8" x2="344.15" y2="634.4" stroke="#000" stroke-width="1.6"/>
<line x1="339.55" y1="633.4" x2="348.75" y2="633.4" stroke="#000" stroke-width="2.6"/>
<rect x="353.40" y="575.3" width="19.6" height="194.30" fill="#F6AD2E" stroke="#111" stroke-width="1"/>
<line x1="358.60" y1="574.5" x2="367.80" y2="574.5" stroke="#000" stroke-width="2.6"/>
<rect x="392.90" y="634.9" width="18.5" height="134.70" fill="#3853AE" stroke="#111" stroke-width="1"/>
<line x1="402.15" y1="634.9" x2="402.15" y2="627.1" stroke="#000" stroke-width="1.6"/>
<line x1="397.55" y1="626.1" x2="406.75" y2="626.1" stroke="#000" stroke-width="2.6"/>
<rect x="411.40" y="571.0" width="19.6" height="198.60" fill="#F6AD2E" stroke="#111" stroke-width="1"/>
<line x1="421.20" y1="571.0" x2="421.20" y2="563.8" stroke="#000" stroke-width="1.6"/>
<line x1="416.60" y1="562.8" x2="425.80" y2="562.8" stroke="#000" stroke-width="2.6"/>
<rect x="450.90" y="628.2" width="18.5" height="141.40" fill="#3853AE" stroke="#111" stroke-width="1"/>
<line x1="460.15" y1="628.2" x2="460.15" y2="620.7" stroke="#000" stroke-width="1.6"/>
<line x1="455.55" y1="619.7" x2="464.75" y2="619.7" stroke="#000" stroke-width="2.6"/>
<rect x="469.40" y="566.9" width="19.6" height="202.70" fill="#F6AD2E" stroke="#111" stroke-width="1"/>
<line x1="479.20" y1="566.9" x2="479.20" y2="560.0" stroke="#000" stroke-width="1.6"/>
<line x1="474.60" y1="559.0" x2="483.80" y2="559.0" stroke="#000" stroke-width="2.6"/>
<rect x="508.90" y="617.6" width="18.5" height="152.00" fill="#3853AE" stroke="#111" stroke-width="1"/>
<line x1="518.15" y1="617.6" x2="518.15" y2="610.9" stroke="#000" stroke-width="1.6"/>
<line x1="513.55" y1="609.9" x2="522.75" y2="609.9" stroke="#000" stroke-width="2.6"/>
<rect x="527.40" y="573.7" width="19.6" height="195.90" fill="#F6AD2E" stroke="#111" stroke-width="1"/>
<line x1="537.20" y1="573.7" x2="537.20" y2="569.8" stroke="#000" stroke-width="1.6"/>
<line x1="532.60" y1="568.8" x2="541.80" y2="568.8" stroke="#000" stroke-width="2.6"/>
<rect x="566.90" y="625.3" width="18.5" height="144.30" fill="#3853AE" stroke="#111" stroke-width="1"/>
<line x1="576.15" y1="625.3" x2="576.15" y2="617.6" stroke="#000" stroke-width="1.6"/>
<line x1="571.55" y1="616.6" x2="580.75" y2="616.6" stroke="#000" stroke-width="2.6"/>
<rect x="585.40" y="580.6" width="19.6" height="189.00" fill="#F6AD2E" stroke="#111" stroke-width="1"/>
<line x1="595.20" y1="580.6" x2="595.20" y2="579.0" stroke="#000" stroke-width="1.6"/>
<line x1="590.60" y1="578.0" x2="599.80" y2="578.0" stroke="#000" stroke-width="2.6"/>
<path d="M150.6,517.2 H612.6 V769.6" fill="none" stroke="#000" stroke-width="2.6"/>
<line x1="149.6" y1="769.6" x2="613.9" y2="769.6" stroke="#000" stroke-width="2.6"/>
<line x1="150.6" y1="515.9000000000001" x2="150.6" y2="770.9" stroke="#000" stroke-width="2.6"/>
<path d="M144,769.60H150.6 M144,727.53H150.6 M144,685.47H150.6 M144,643.40H150.6 M144,601.33H150.6 M144,559.27H150.6 M144,517.20H150.6" stroke="#000" stroke-width="2.0" fill="none"/>
<path d="M147.20,748.57H150.6 M147.20,706.50H150.6 M147.20,664.43H150.6 M147.20,622.37H150.6 M147.20,580.30H150.6 M147.20,538.23H150.6 M147.20,763.27H150.6 M147.20,759.56H150.6 M147.20,756.94H150.6 M147.20,754.90H150.6 M147.20,753.23H150.6 M147.20,751.82H150.6 M147.20,750.61H150.6 M147.20,749.53H150.6 M147.20,742.24H150.6 M147.20,738.53H150.6 M147.20,735.90H150.6 M147.20,733.86H150.6 M147.20,732.20H150.6 M147.20,730.79H150.6 M147.20,729.57H150.6 M147.20,728.50H150.6 M147.20,721.20H150.6 M147.20,717.50H150.6 M147.20,714.87H150.6 M147.20,712.83H150.6 M147.20,711.17H150.6 M147.20,709.76H150.6 M147.20,708.54H150.6 M147.20,707.46H150.6 M147.20,700.17H150.6 M147.20,696.46H150.6 M147.20,693.84H150.6 M147.20,691.80H150.6 M147.20,690.13H150.6 M147.20,688.72H150.6 M147.20,687.51H150.6 M147.20,686.43H150.6 M147.20,679.14H150.6 M147.20,675.43H150.6 M147.20,672.80H150.6 M147.20,670.76H150.6 M147.20,669.10H150.6 M147.20,667.69H150.6 M147.20,666.47H150.6 M147.20,665.40H150.6 M147.20,658.10H150.6 M147.20,654.40H150.6 M147.20,651.77H150.6 M147.20,649.73H150.6 M147.20,648.07H150.6 M147.20,646.66H150.6 M147.20,645.44H150.6 M147.20,644.36H150.6 M147.20,637.07H150.6 M147.20,633.36H150.6 M147.20,630.74H150.6 M147.20,628.70H150.6 M147.20,627.03H150.6 M147.20,625.62H150.6 M147.20,624.41H150.6 M147.20,623.33H150.6 M147.20,616.04H150.6 M147.20,612.33H150.6 M147.20,609.70H150.6 M147.20,607.66H150.6 M147.20,606.00H150.6 M147.20,604.59H150.6 M147.20,603.37H150.6 M147.20,602.30H150.6 M147.20,595.00H150.6 M147.20,591.30H150.6 M147.20,588.67H150.6 M147.20,586.63H150.6 M147.20,584.97H150.6 M147.20,583.56H150.6 M147.20,582.34H150.6 M147.20,581.26H150.6 M147.20,573.97H150.6 M147.20,570.26H150.6 M147.20,567.64H150.6 M147.20,565.60H150.6 M147.20,563.93H150.6 M147.20,562.52H150.6 M147.20,561.31H150.6 M147.20,560.23H150.6 M147.20,552.94H150.6 M147.20,549.23H150.6 M147.20,546.60H150.6 M147.20,544.56H150.6 M147.20,542.90H150.6 M147.20,541.49H150.6 M147.20,540.27H150.6 M147.20,539.20H150.6 M147.20,531.90H150.6 M147.20,528.20H150.6 M147.20,525.57H150.6 M147.20,523.53H150.6 M147.20,521.87H150.6 M147.20,520.46H150.6 M147.20,519.24H150.6 M147.20,518.16H150.6" stroke="#000" stroke-width="1.1" fill="none"/>
<line x1="179.40" y1="769.6" x2="179.40" y2="776.6" stroke="#000" stroke-width="2.4"/>
<line x1="237.40" y1="769.6" x2="237.40" y2="776.6" stroke="#000" stroke-width="2.4"/>
<line x1="295.40" y1="769.6" x2="295.40" y2="776.6" stroke="#000" stroke-width="2.4"/>
<line x1="353.40" y1="769.6" x2="353.40" y2="776.6" stroke="#000" stroke-width="2.4"/>
<line x1="411.40" y1="769.6" x2="411.40" y2="776.6" stroke="#000" stroke-width="2.4"/>
<line x1="469.40" y1="769.6" x2="469.40" y2="776.6" stroke="#000" stroke-width="2.4"/>
<line x1="527.40" y1="769.6" x2="527.40" y2="776.6" stroke="#000" stroke-width="2.4"/>
<line x1="585.40" y1="769.6" x2="585.40" y2="776.6" stroke="#000" stroke-width="2.4"/>
<text x="127.9" y="779.00" font-size="24.2" font-weight="bold" font-style="normal" text-anchor="end" fill="#000" textLength="24.2" lengthAdjust="spacingAndGlyphs" >10</text>
<text x="131.6" y="770.20" font-size="16.3" font-weight="normal" font-style="normal" text-anchor="start" fill="#000" textLength="8.6" lengthAdjust="spacingAndGlyphs" stroke="#000" stroke-width="0.45">0</text>
<text x="127.9" y="736.93" font-size="24.2" font-weight="bold" font-style="normal" text-anchor="end" fill="#000" textLength="24.2" lengthAdjust="spacingAndGlyphs" >10</text>
<text x="131.6" y="728.13" font-size="16.3" font-weight="normal" font-style="normal" text-anchor="start" fill="#000" textLength="8.6" lengthAdjust="spacingAndGlyphs" stroke="#000" stroke-width="0.45">2</text>
<text x="127.9" y="694.87" font-size="24.2" font-weight="bold" font-style="normal" text-anchor="end" fill="#000" textLength="24.2" lengthAdjust="spacingAndGlyphs" >10</text>
<text x="131.6" y="686.07" font-size="16.3" font-weight="normal" font-style="normal" text-anchor="start" fill="#000" textLength="8.6" lengthAdjust="spacingAndGlyphs" stroke="#000" stroke-width="0.45">4</text>
<text x="127.9" y="652.80" font-size="24.2" font-weight="bold" font-style="normal" text-anchor="end" fill="#000" textLength="24.2" lengthAdjust="spacingAndGlyphs" >10</text>
<text x="131.6" y="644.00" font-size="16.3" font-weight="normal" font-style="normal" text-anchor="start" fill="#000" textLength="8.6" lengthAdjust="spacingAndGlyphs" stroke="#000" stroke-width="0.45">6</text>
<text x="127.9" y="610.73" font-size="24.2" font-weight="bold" font-style="normal" text-anchor="end" fill="#000" textLength="24.2" lengthAdjust="spacingAndGlyphs" >10</text>
<text x="131.6" y="601.93" font-size="16.3" font-weight="normal" font-style="normal" text-anchor="start" fill="#000" textLength="8.6" lengthAdjust="spacingAndGlyphs" stroke="#000" stroke-width="0.45">8</text>
<text x="118.9" y="568.47" font-size="24.2" font-weight="bold" font-style="normal" text-anchor="end" fill="#000" textLength="23.8" lengthAdjust="spacingAndGlyphs" >10</text>
<text x="123.6" y="559.87" font-size="16.3" font-weight="normal" font-style="normal" text-anchor="start" fill="#000" textLength="17.1" lengthAdjust="spacingAndGlyphs" stroke="#000" stroke-width="0.45">10</text>
<text x="118.9" y="526.40" font-size="24.2" font-weight="bold" font-style="normal" text-anchor="end" fill="#000" textLength="23.8" lengthAdjust="spacingAndGlyphs" >10</text>
<text x="123.6" y="517.80" font-size="16.3" font-weight="normal" font-style="normal" text-anchor="start" fill="#000" textLength="17.1" lengthAdjust="spacingAndGlyphs" stroke="#000" stroke-width="0.45">12</text>
<text x="179.6" y="803.2" font-size="22.8" font-weight="normal" font-style="normal" text-anchor="middle" fill="#000" textLength="31.6" lengthAdjust="spacingAndGlyphs" stroke="#000" stroke-width="0.75">Ctrl</text>
<text x="221.80" y="803.2" font-size="21" font-weight="normal" font-style="normal" text-anchor="start" fill="#000" textLength="22.4" lengthAdjust="spacingAndGlyphs" stroke="#000" stroke-width="0.75">10</text>
<text x="245.30" y="790.6" font-size="16.5" font-weight="normal" font-style="normal" text-anchor="start" fill="#222" >8</text>
<text x="279.80" y="803.2" font-size="21" font-weight="normal" font-style="normal" text-anchor="start" fill="#000" textLength="22.4" lengthAdjust="spacingAndGlyphs" stroke="#000" stroke-width="0.75">10</text>
<text x="303.30" y="790.6" font-size="16.5" font-weight="normal" font-style="normal" text-anchor="start" fill="#222" >7</text>
<text x="337.80" y="803.2" font-size="21" font-weight="normal" font-style="normal" text-anchor="start" fill="#000" textLength="22.4" lengthAdjust="spacingAndGlyphs" stroke="#000" stroke-width="0.75">10</text>
<text x="361.30" y="790.6" font-size="16.5" font-weight="normal" font-style="normal" text-anchor="start" fill="#222" >6</text>
<text x="395.80" y="803.2" font-size="21" font-weight="normal" font-style="normal" text-anchor="start" fill="#000" textLength="22.4" lengthAdjust="spacingAndGlyphs" stroke="#000" stroke-width="0.75">10</text>
<text x="419.30" y="790.6" font-size="16.5" font-weight="normal" font-style="normal" text-anchor="start" fill="#222" >5</text>
<text x="453.80" y="803.2" font-size="21" font-weight="normal" font-style="normal" text-anchor="start" fill="#000" textLength="22.4" lengthAdjust="spacingAndGlyphs" stroke="#000" stroke-width="0.75">10</text>
<text x="477.30" y="790.6" font-size="16.5" font-weight="normal" font-style="normal" text-anchor="start" fill="#222" >4</text>
<text x="511.80" y="803.2" font-size="21" font-weight="normal" font-style="normal" text-anchor="start" fill="#000" textLength="22.4" lengthAdjust="spacingAndGlyphs" stroke="#000" stroke-width="0.75">10</text>
<text x="535.30" y="790.6" font-size="16.5" font-weight="normal" font-style="normal" text-anchor="start" fill="#222" >3</text>
<text x="569.80" y="803.2" font-size="21" font-weight="normal" font-style="normal" text-anchor="start" fill="#000" textLength="22.4" lengthAdjust="spacingAndGlyphs" stroke="#000" stroke-width="0.75">10</text>
<text x="593.30" y="790.6" font-size="16.5" font-weight="normal" font-style="normal" text-anchor="start" fill="#222" >2</text>
<rect x="182.8" y="527.8" width="25.3" height="19.8" fill="#3853AE" stroke="#111" stroke-width="1"/>
<text x="223.9" y="547" font-size="21" font-weight="normal" font-style="italic" text-anchor="start" fill="#000" textLength="84" lengthAdjust="spacingAndGlyphs" >S. aureus</text>
<rect x="342.5" y="527.5" width="25.5" height="19.6" fill="#F6AD2E" stroke="#111" stroke-width="1"/>
<text x="382.6" y="546.2" font-size="21" font-weight="normal" font-style="italic" text-anchor="start" fill="#000" textLength="130" lengthAdjust="spacingAndGlyphs" >P. aeruginosa</text>
<text transform="translate(72.3,638) rotate(-90)" font-size="25" font-weight="bold" text-anchor="middle" textLength="90.3" lengthAdjust="spacingAndGlyphs">CFU/mL</text>
<text x="215.2" y="857.7" font-size="23.5" font-weight="bold" textLength="332.7" lengthAdjust="spacingAndGlyphs">Initial CFU/mL (<tspan font-style="italic">P. aeruginosa</tspan>)</text>
</svg></body></html>
